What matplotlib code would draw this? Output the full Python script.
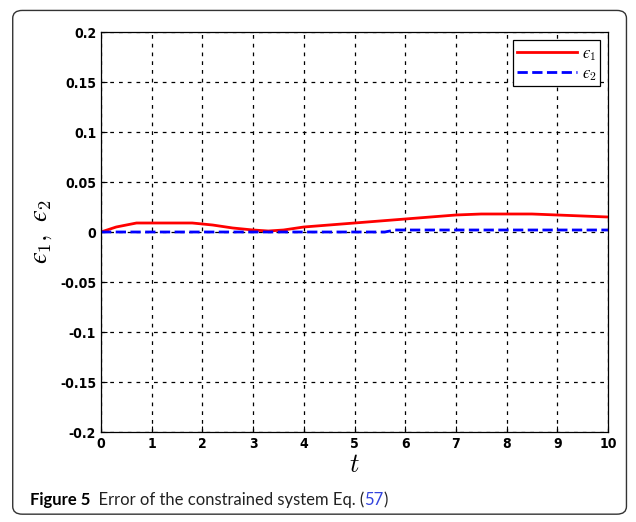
import matplotlib.pyplot as plt
from matplotlib.patches import FancyBboxPatch
import numpy as np

plt.rcParams['mathtext.fontset'] = 'cm'

# values
t1 = [0, 0.3, 0.7, 1.0, 1.8, 2.2, 2.6, 3.0, 3.3, 3.6, 4.0, 4.5, 5.0, 5.5, 6.0, 6.5, 7.0, 7.5, 8.0, 8.5, 9.0, 9.5, 10]
e1 = [0, 0.005, 0.009, 0.009, 0.009, 0.007, 0.004, 0.002, 0.001, 0.002, 0.005, 0.007, 0.009, 0.011, 0.013, 0.015, 0.017, 0.018, 0.018, 0.018, 0.017, 0.016, 0.015]
t2 = [0, 5.6, 5.8, 10]
e2 = [0, 0, 0.002, 0.002]

xticks = np.arange(0, 11, 1)
yticks = [-0.2, -0.15, -0.1, -0.05, 0, 0.05, 0.1, 0.15, 0.2]
yticklabels = ['-0.2', '-0.15', '-0.1', '-0.05', '0', '0.05', '0.1', '0.15', '0.2']

fig = plt.figure(figsize=(6.36, 5.22), dpi=100)
fig.patches.append(FancyBboxPatch((0.02, 0.015), 0.965, 0.965, boxstyle="round,pad=0,rounding_size=0.015",
                                  transform=fig.transFigure, fill=False, ec='#333333', lw=1.0))

ax = fig.add_axes([101 / 636, 1 - 432 / 522, 507 / 636, 400 / 522])
ax.plot(t1, e1, color='red', lw=2, label='$\u03f5_1$')
ax.plot(t2, e2, color='blue', lw=2, ls='--', label='$\u03f5_2$')
ax.set_xlim(0, 10)
ax.set_ylim(-0.2, 0.2)
ax.set_xticks(xticks)
ax.set_yticks(yticks)
ax.set_yticklabels(yticklabels)
for lab in ax.get_xticklabels() + ax.get_yticklabels():
    lab.set_family(['DejaVu Sans'])
    lab.set_stretch('condensed')
    lab.set_weight('bold')
    lab.set_size(10)
ax.tick_params(direction='in', length=4, width=0.8, colors='black')
ax.grid(True, ls=(0, (3, 4)), color='black', lw=0.9)
for s in ax.spines.values():
    s.set_linewidth(0.9)
ax.set_xlabel('$t$', fontsize=19, labelpad=1)
ax.set_ylabel('$\u03f5_1,\\ \u03f5_2$', fontsize=19, labelpad=4)

leg = ax.legend(loc='upper right', fontsize=12, handlelength=3.6, fancybox=False, framealpha=1,
                edgecolor='black', borderpad=0.2, labelspacing=0.1, borderaxespad=0.5, handletextpad=0.3)
leg.get_frame().set_linewidth(0.9)

capfont = ['Lato', 'DejaVu Sans']
c1 = fig.text(0.047, 0.032, 'Figure 5', family=capfont, weight='bold', size=12)
c2 = ax.annotate('  Error of the constrained system Eq. (', xy=(1, 0), xycoords=c1, va='bottom',
                 family=capfont, size=12, color='#222222', annotation_clip=False)
c3 = ax.annotate('57', xy=(1, 0), xycoords=c2, va='bottom', family=capfont, size=12,
                 color='#3344dd', annotation_clip=False)
ax.annotate(')', xy=(1, 0), xycoords=c3, va='bottom', family=capfont, size=12,
            color='#222222', annotation_clip=False)

fig.savefig('out.png', dpi=100)
